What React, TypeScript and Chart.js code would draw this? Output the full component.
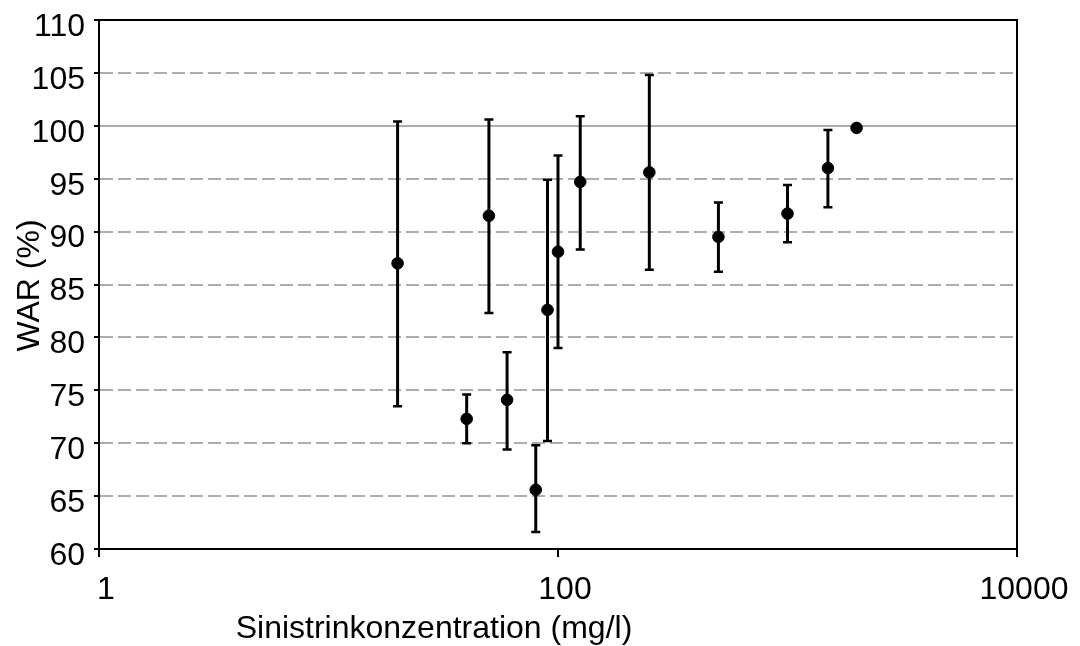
import React, { useEffect, useRef } from "react";
import { Chart, registerables } from "chart.js";

Chart.register(...registerables);

const concentrations = [20, 40, 50, 60, 80, 90, 100, 125, 250, 500, 1000, 1500, 2000];
const warValues = [87.0, 72.3, 91.5, 74.1, 65.6, 82.6, 88.1, 94.7, 95.6, 89.5, 91.7, 96.0, 99.8];
const errLow: (number | null)[] = [73.5, 70.0, 82.3, 69.4, 61.6, 70.2, 79.0, 88.3, 86.4, 86.2, 89.0, 92.3, null];
const errHigh: (number | null)[] = [100.4, 74.6, 100.6, 78.6, 69.8, 94.9, 97.2, 100.9, 104.8, 92.75, 94.4, 99.6, null];

const xTickValues = [1, 100, 10000];
const xTickLabels = ["1", "100", "10000"];
const yMin = 60;
const yMax = 110;
const yStep = 5;
const xTitle = "Sinistrinkonzentration (mg/l)";
const yTitle = "WAR (%)";

const FONT = "'Liberation Sans', Arial, sans-serif";

const errorBarPlugin = {
  id: "errorBars",
  beforeDatasetsDraw(chart: any) {
    const { ctx, chartArea, scales } = chart;
    const xs = scales.x;
    const ys = scales.y;
    ctx.save();
    ctx.strokeStyle = "#000";
    ctx.lineWidth = 2;
    ctx.strokeRect(chartArea.left, chartArea.top, chartArea.right - chartArea.left, chartArea.bottom - chartArea.top);
    for (let i = 0; i < concentrations.length; i++) {
      const lo = errLow[i];
      const hi = errHigh[i];
      if (lo == null || hi == null) continue;
      const x = xs.getPixelForValue(concentrations[i]);
      const y1 = ys.getPixelForValue(lo);
      const y2 = ys.getPixelForValue(hi);
      ctx.strokeStyle = "#000";
      ctx.lineWidth = 3;
      ctx.beginPath();
      ctx.moveTo(x, y1);
      ctx.lineTo(x, y2);
      ctx.stroke();
      ctx.lineWidth = 2.5;
      ctx.beginPath();
      ctx.moveTo(x - 4.5, y1);
      ctx.lineTo(x + 4.5, y1);
      ctx.moveTo(x - 4.5, y2);
      ctx.lineTo(x + 4.5, y2);
      ctx.stroke();
    }
    ctx.restore();
  },
  afterDraw(chart: any) {
    const { ctx } = chart;
    ctx.save();
    ctx.fillStyle = "#000";
    ctx.font = `32px ${FONT}`;
    ctx.textAlign = "center";
    ctx.textBaseline = "alphabetic";
    ctx.fillText(xTitle, 434, 638);
    ctx.translate(38.5, 285.5);
    ctx.rotate(-Math.PI / 2);
    ctx.fillText(yTitle, 0, 0);
    ctx.restore();
  },
};

export default function App() {
  const canvasRef = useRef<HTMLCanvasElement | null>(null);

  useEffect(() => {
    const canvas = canvasRef.current;
    if (!canvas) return;
    const chart = new Chart(canvas, {
      type: "scatter",
      data: {
        datasets: [
          {
            data: concentrations.map((c, i) => ({ x: c, y: warValues[i] })),
            backgroundColor: "#000",
            borderColor: "#000",
            pointRadius: 5.8,
            pointHoverRadius: 5.8,
            showLine: false,
          },
        ],
      },
      plugins: [errorBarPlugin],
      options: {
        animation: false,
        responsive: true,
        maintainAspectRatio: false,
        layout: { padding: { left: 0, right: 63, top: 20, bottom: 0 } },
        plugins: { legend: { display: false }, tooltip: { enabled: false }, title: { display: false } },
        scales: {
          x: {
            type: "logarithmic",
            min: 1,
            max: 10000,
            afterBuildTicks: (scale: any) => {
              scale.ticks = xTickValues.map((v) => ({ value: v }));
            },
            afterFit: (scale: any) => {
              scale.height = 97;
              scale.paddingLeft = 0;
              scale.paddingRight = 0;
            },
            ticks: {
              autoSkip: false,
              maxRotation: 0,
              padding: 14,
              labelOffset: 7,
              color: "#000",
              font: { family: FONT, size: 32 },
              callback: (value: any) => {
                const idx = xTickValues.indexOf(Number(value));
                return idx >= 0 ? xTickLabels[idx] : "";
              },
            },
            grid: {
              drawOnChartArea: false,
              drawTicks: true,
              tickLength: 8,
              tickColor: "#000",
              tickWidth: 2,
              lineWidth: 2,
              color: "#000",
            },
            border: { display: true, color: "#000", width: 2 },
          },
          y: {
            type: "linear",
            min: yMin,
            max: yMax,
            afterFit: (scale: any) => {
              scale.width = 99;
              scale.paddingTop = 0;
              scale.paddingBottom = 0;
            },
            ticks: {
              stepSize: yStep,
              padding: 9,
              labelOffset: 7,
              color: "#000",
              font: { family: FONT, size: 32 },
            },
            grid: {
              drawOnChartArea: true,
              drawTicks: true,
              tickLength: 5,
              tickColor: "#000",
              tickWidth: 2,
              lineWidth: 2,
              color: (ctx: any) => {
                const v = ctx.tick ? ctx.tick.value : null;
                if (v === yMin || v === yMax) return "rgba(0,0,0,0)";
                return "#adadad";
              },
            },
            border: {
              display: true,
              color: "#000",
              width: 2,
              dash: (ctx: any) => {
                if (!ctx.tick) return [];
                return ctx.tick.value === 100 ? [] : [13, 5];
              },
            },
          },
        },
      },
    } as any);
    return () => chart.destroy();
  }, []);

  return (
    <div style={{ position: "fixed", left: 0, top: 0, width: 1080, height: 646, background: "#fff" }}>
      <canvas ref={canvasRef} />
    </div>
  );
}
